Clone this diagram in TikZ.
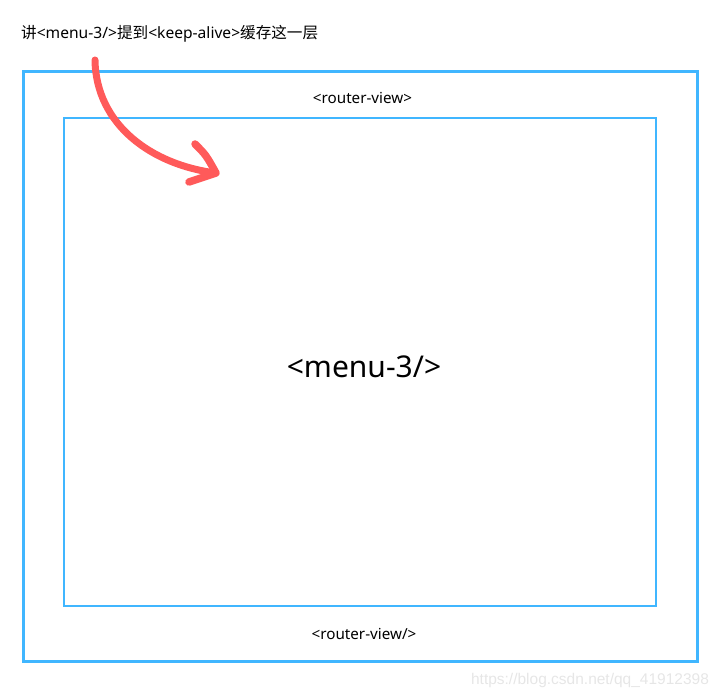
\documentclass[tikz,border=0pt]{standalone}
\usepackage{fontspec}
\setmainfont{Noto Sans}
\newfontfamily\cjk{Noto Sans CJK SC}
\newfontfamily\wmfont{Liberation Sans}
\definecolor{boxblue}{HTML}{40B6FF}
\definecolor{arrowred}{HTML}{FF5A5A}
\definecolor{wmgray}{HTML}{E6E6E6}
\begin{document}
\begin{tikzpicture}[x=1pt,y=-1pt,
  lbl/.style={inner sep=0pt,font=\fontsize{15.2}{17}\selectfont},
  redstroke/.style={draw=arrowred,line width=7.5pt,line cap=round,line join=round}]
\useasboundingbox (0,0) rectangle (721,698);
\node[draw=boxblue,line width=2.7pt,minimum width=674pt,minimum height=590pt,inner sep=0pt] (outer) at (360.8,366.5) {};
\node[draw=boxblue,line width=1.8pt,minimum width=591.5pt,minimum height=488pt,inner sep=0pt] (inner) at (360,362.2) {};
\node[lbl,anchor=west,font=\fontsize{15.6}{17}\selectfont] (title) at (21,34) {{\cjk 讲}<menu-3/>{\cjk 提到}<keep-alive>{\cjk 缓存这一层}};
\node[lbl] (rv1) at (362.5,98) {<router-view>};
\node[lbl] (rv2) at (364,634) {<router-view/>};
\node[lbl,font=\fontsize{30}{34}\selectfont] (menu) at (364,367) {<menu-3/>};
\node[inner sep=0pt,text=wmgray,font=\wmfont\fontsize{15.5}{17}\selectfont] (wm) at (590,680) {https://blog.csdn.net/qq\_41912398};
\coordinate (a0) at (95,60);
\coordinate (tip) at (216,173);
\coordinate (h1) at (195,144);
\coordinate (h2) at (189,182);
\draw[redstroke,line width=7pt] (a0) .. controls (96,125) and (152,165) .. (tip);
\draw[redstroke] (h1) .. controls (206,155) .. (tip) -- (h2);
\end{tikzpicture}
\end{document}
